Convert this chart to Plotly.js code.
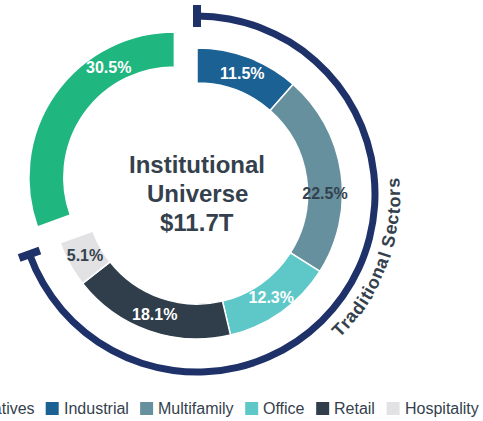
<!DOCTYPE html>
<html><head><meta charset="utf-8">
<script src="https://cdn.plot.ly/plotly-3.0.1.min.js"></script>
<style>
html,body{margin:0;padding:0;overflow:hidden;width:483px;height:421px;background:#fff}
#chart{position:absolute;left:-153px;top:0;width:700px;height:421px}
</style>
</head><body><div id="chart"></div>
<script>
// ---- data ----
const categories = ['Alternatives', 'Industrial', 'Multifamily', 'Office', 'Retail', 'Hospitality'];
const shares = [30.5, 11.5, 22.5, 12.3, 18.1, 5.1];
const sliceColors = ['#1fb67f', '#1c6194', '#67909f', '#5ec8c8', '#2f3e4a', '#e2e2e4'];
const labelColors = ['#ffffff', '#ffffff', '#34414d', '#ffffff', '#ffffff', '#34414d'];
const pulls = [0.19, 0, 0, 0, 0, 0];
const centerLines = ['Institutional', 'Universe', '$11.7T'];
const arcLabel = 'Traditional Sectors';
const arcGroups = ['Traditional Sectors', 'Other'];

// ---- styling / layout frame (figure pixels <-> page pixels) ----
const OFFX = -153, FW = 700, FH = 421;
const NAVY = '#1f3169', DARK = '#34414d';
const FONT = 'Liberation Sans, Arial, sans-serif';
const pxX = x => (x - OFFX) / FW;
const pxY = y => 1 - y / FH;
// slices whose value label is placed by us (fraction along the slice where it sits)
const ownLabel = {0: 0.72, 4: 0.5};

const total = shares.reduce((a, b) => a + b, 0);
const altShare = shares[0];
const tradShare = total - altShare;
const rotation = -360 * altShare / total;

// donut geometry
const C = {x: 197, y: 193.5}, R = 145.5, HOLE = 0.76;
const maxPull = Math.max(...pulls);
const half = R * (1 + maxPull);
// arc geometry
const A = {x: 197, y: 194}, RA_OUT = 181.5, RA_IN = 174.5, RA = (RA_OUT + RA_IN) / 2;

const donut = {
  type: 'pie', labels: categories, values: shares, sort: false,
  direction: 'clockwise', rotation: rotation,
  hole: HOLE, pull: pulls,
  marker: {colors: sliceColors, line: {color: '#ffffff', width: 1.5}},
  texttemplate: '%{value:.1f}%', textinfo: 'text',
  textposition: categories.map((c, i) => (i in ownLabel) ? 'none' : 'inside'),
  insidetextorientation: 'horizontal',
  textfont: {family: FONT, size: 16, color: labelColors, weight: 'bold'},
  domain: {x: [pxX(C.x - half), pxX(C.x + half)], y: [pxY(C.y + half), pxY(C.y - half)]},
  hoverinfo: 'skip', showlegend: false
};

const arc = {
  type: 'pie', labels: arcGroups, values: [tradShare, altShare], sort: false,
  direction: 'clockwise', rotation: 0, hole: RA_IN / RA_OUT,
  marker: {colors: [NAVY, 'rgba(0,0,0,0)'], line: {width: 0}},
  textinfo: 'none', showlegend: false, hoverinfo: 'skip',
  domain: {x: [pxX(A.x - RA_OUT), pxX(A.x + RA_OUT)], y: [pxY(A.y + RA_OUT), pxY(A.y - RA_OUT)]}
};

// end caps of the arc, at the angles given by the data
const endAngles = [0, 360 * tradShare / total];
const capX = [], capY = [];
endAngles.forEach(a => {
  const t = a * Math.PI / 180;
  [RA - 11, RA + 11].forEach(r => { capX.push(A.x + r * Math.sin(t)); capY.push(A.y - r * Math.cos(t)); });
  capX.push(null); capY.push(null);
});
const caps = {
  type: 'scatter', mode: 'lines', x: capX, y: capY, xaxis: 'x', yaxis: 'y',
  line: {color: NAVY, width: 8}, showlegend: false, hoverinfo: 'skip'
};

const cv = document.createElement('canvas').getContext('2d');
const annotations = [], shapes = [];

// value labels that we place ourselves, from the slice geometry given by the data
let startDeg = rotation;
shares.forEach((v, i) => {
  const span = 360 * v / total;
  if (i in ownLabel) {
    const mid = (startDeg + span / 2) * Math.PI / 180;
    const shift = pulls[i] * R;
    const cx = C.x + shift * Math.sin(mid), cy = C.y - shift * Math.cos(mid);
    const la = (startDeg + span * ownLabel[i]) * Math.PI / 180;
    const rm = R * (1 + HOLE) / 2;
    annotations.push({xref: 'x', yref: 'y', x: cx + rm * Math.sin(la), y: cy - rm * Math.cos(la),
      text: v.toFixed(1) + '%', showarrow: false, xanchor: 'center', yanchor: 'middle',
      font: {family: FONT, size: 16, color: labelColors[i], weight: 'bold'}});
  }
  startDeg += span;
});

// curved label along the arc
const FONT_ARC = 18, SPACING = 0.5, R_TEXT = 197, MID_ANGLE = 110.4;
cv.font = 'bold ' + FONT_ARC + 'px "Liberation Sans", Arial, sans-serif';
const widths = [...arcLabel].map(ch => cv.measureText(ch).width + SPACING);
const tw = widths.reduce((a, b) => a + b, 0);
let acc = 0;
[...arcLabel].forEach((ch, i) => {
  const s = acc + widths[i] / 2 - tw / 2;
  acc += widths[i];
  const ang = MID_ANGLE - (s / R_TEXT) * 180 / Math.PI;
  const t = ang * Math.PI / 180;
  if (ch === ' ') return;
  annotations.push({
    xref: 'x', yref: 'y', x: A.x + R_TEXT * Math.sin(t), y: A.y - R_TEXT * Math.cos(t),
    text: ch, showarrow: false, textangle: ang - 180, xanchor: 'center', yanchor: 'middle',
    font: {family: FONT, size: FONT_ARC, color: DARK, weight: 'bold'}
  });
});

// centre title
const centerY = [164, 193, 222];
centerLines.forEach((t, i) => annotations.push({
  xref: 'x', yref: 'y', x: 197, y: centerY[i], text: '<b>' + t + '</b>', showarrow: false,
  xanchor: 'center', yanchor: 'middle',
  font: {family: FONT, size: 24, color: DARK}
}));

// legend row (swatch + label per category), centred under the chart
const LEG_FONT = 16, SW = 13, SW_GAP = 5, ITEM_GAP = 11.5, LEG_Y = 408.5, LEG_CX = 205.5;
cv.font = LEG_FONT + 'px "Liberation Sans", Arial, sans-serif';
const legW = categories.map(c => cv.measureText(c).width);
const legTotal = legW.reduce((a, w) => a + SW + SW_GAP + w, 0) + ITEM_GAP * (categories.length - 1);
let lx = LEG_CX - legTotal / 2;
categories.forEach((c, i) => {
  shapes.push({type: 'rect', xref: 'x', yref: 'y', x0: lx, x1: lx + SW, y0: LEG_Y - SW / 2, y1: LEG_Y + SW / 2,
    fillcolor: sliceColors[i], line: {width: 0}});
  annotations.push({xref: 'x', yref: 'y', x: lx + SW + SW_GAP - 2, y: LEG_Y, text: c, showarrow: false,
    xanchor: 'left', yanchor: 'middle', font: {family: FONT, size: LEG_FONT, color: DARK}});
  lx += SW + SW_GAP + legW[i] + ITEM_GAP;
});

const layout = {
  width: FW, height: FH, margin: {l: 0, r: 0, t: 0, b: 0},
  paper_bgcolor: '#ffffff', plot_bgcolor: 'rgba(0,0,0,0)',
  xaxis: {range: [OFFX, OFFX + FW], visible: false, fixedrange: true},
  yaxis: {range: [FH, 0], visible: false, fixedrange: true},
  showlegend: false,
  uniformtext: {mode: 'show', minsize: 16},
  annotations: annotations, shapes: shapes, hovermode: false
};

Plotly.newPlot('chart', [caps, arc, donut], layout, {staticPlot: true, displayModeBar: false});
</script>
</body></html>
